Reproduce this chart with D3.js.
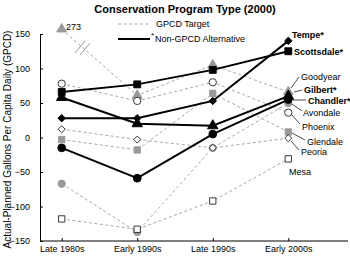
<!DOCTYPE html>
<html>
<head>
<meta charset="utf-8">
<script src="https://cdn.jsdelivr.net/npm/d3@7"></script>
<style>
  body { margin: 0; background: #fff; }
  svg { display: block; font-family: "Liberation Sans", Arial, sans-serif; }
</style>
</head>
<body>
<div id="chart"></div>
<script>
// periods on the x axis
const periods = ["Late 1980s", "Early 1990s", "Late 1990s", "Early 2000s"];
const yTicks = [-150, -100, -50, 0, 50, 100, 150];

// GPCD target cities (dashed grey)
const goodyear = [273, 61, 105, 66];
const avondale = [-67, -137, -15, 50];
const phoenix = [78, 53, 80, 36];
const glendale = [-3, -18, 64, 8];
const peoria = [12, -3, -15, -1];
const mesa = [-118, -133, -92, -31];

// non-GPCD alternative cities (solid black)
const tempe = [28, 28, 53, 140];
const scottsdale = [66, 77, 98, 125];
const gilbert = [58, 20, 17, 60];
const chandler = [-15, -59, 5, 55];

// 273 is drawn above the top of the axis with a break
const goodyearBreakPlot = 157;

const width = 350, height = 256;
const marginLeft = 40, marginTop = 34, marginBottom = 15;

const x = d3.scalePoint().domain(periods).range([61.7, 288.3]);
const y = d3.scaleLinear().domain([-150, 150]).range([height - marginBottom, marginTop]);

const svg = d3.select("#chart").append("svg")
    .attr("width", width)
    .attr("height", height);

// title
svg.append("text")
    .attr("x", 185).attr("y", 13)
    .attr("text-anchor", "middle")
    .attr("font-size", 11).attr("font-weight", "bold")
    .text("Conservation Program Type (2000)");

// y axis
svg.append("g")
    .attr("transform", `translate(${marginLeft},0)`)
    .call(d3.axisLeft(y).tickValues(yTicks).tickSizeInner(-3).tickSizeOuter(0).tickPadding(10))
    .call(g => g.selectAll("text").attr("font-size", 9).attr("font-family", "Liberation Sans, Arial, sans-serif"));

// x axis
svg.append("g")
    .attr("transform", `translate(0,${y(-150)})`)
    .call(d3.axisBottom(x).tickSizeInner(-3).tickSizeOuter(0).tickPadding(5))
    .call(g => g.select(".domain").remove())
    .call(g => g.append("line").attr("x1", marginLeft).attr("x2", 348).attr("stroke", "#000"))
    .call(g => g.selectAll("text").attr("font-size", 9).attr("font-family", "Liberation Sans, Arial, sans-serif"));

// y label
svg.append("text")
    .attr("transform", `translate(11,${(y(150) + y(-150)) / 2 + 2}) rotate(-90)`)
    .attr("text-anchor", "middle")
    .attr("font-size", 10)
    .text("Actual-Planned Gallons Per Capita Daily (GPCD)");

const targets = [
  { name: "Goodyear", v: goodyear, shape: d3.symbolTriangle, fill: "#999", stroke: "#999", size: 42 },
  { name: "Avondale", v: avondale, shape: d3.symbolCircle, fill: "#999", stroke: "#999", size: 42 },
  { name: "Phoenix", v: phoenix, shape: d3.symbolCircle, fill: "#fff", stroke: "#222", size: 42 },
  { name: "Glendale", v: glendale, shape: d3.symbolSquare, fill: "#999", stroke: "#999", size: 40 },
  { name: "Mesa", v: mesa, shape: d3.symbolSquare, fill: "#fff", stroke: "#222", size: 40 },
  { name: "Peoria", v: peoria, shape: d3.symbolDiamond2, fill: "#fff", stroke: "#222", size: 32 }
];
const alternatives = [
  { name: "Gilbert", v: gilbert, shape: d3.symbolTriangle, fill: "#000", stroke: "#000", size: 48 },
  { name: "Chandler", v: chandler, shape: d3.symbolCircle, fill: "#000", stroke: "#000", size: 48 },
  { name: "Tempe", v: tempe, shape: d3.symbolDiamond2, fill: "#000", stroke: "#000", size: 36 },
  { name: "Scottsdale", v: scottsdale, shape: d3.symbolSquare, fill: "#000", stroke: "#000", size: 48 }
];

const plotY = (d, i, name) => (name === "Goodyear" && d > 150) ? y(goodyearBreakPlot) : y(d);

const line = name => d3.line()
    .x((d, i) => x(periods[i]))
    .y((d, i) => plotY(d, i, name));

function drawSeries(list, lineStyle) {
  list.forEach(s => {
    svg.append("path")
        .datum(s.v)
        .attr("fill", "none")
        .attr("stroke", lineStyle.stroke)
        .attr("stroke-width", lineStyle.width)
        .attr("stroke-dasharray", lineStyle.dash)
        .attr("d", line(s.name));
  });
}
function drawMarkers(list) {
  list.forEach(s => {
    svg.append("g").selectAll("path")
      .data(s.v)
      .join("path")
        .attr("transform", (d, i) => `translate(${x(periods[i])},${plotY(d, i, s.name)})`)
        .attr("d", d3.symbol(s.shape, s.size))
        .attr("fill", s.fill)
        .attr("stroke", s.stroke)
        .attr("stroke-width", 0.9);
  });
}

drawSeries(targets, { stroke: "#a8a8a8", width: 1, dash: "3,2.5" });
drawMarkers(targets);
drawSeries(alternatives, { stroke: "#000", width: 2, dash: null });
drawMarkers(alternatives);

// axis break marks on Goodyear's first segment
[[0, 0], [5, 2]].forEach(([dx, dy]) => {
  svg.append("line")
      .attr("x1", 75 + dx).attr("y1", 53 + dy)
      .attr("x2", 85 + dx).attr("y2", 41 + dy)
      .attr("stroke", "#999").attr("stroke-width", 1);
});
svg.append("text")
    .attr("x", 66).attr("y", 30)
    .attr("font-size", 9)
    .text(goodyear[0]);

// legend
svg.append("line").attr("x1", 118).attr("x2", 150).attr("y1", 24).attr("y2", 24)
    .attr("stroke", "#a8a8a8").attr("stroke-dasharray", "3,2.5");
svg.append("text").attr("x", 156).attr("y", 27).attr("font-size", 9).text("GPCD Target");
svg.append("line").attr("x1", 118).attr("x2", 150).attr("y1", 39).attr("y2", 39)
    .attr("stroke", "#000").attr("stroke-width", 2);
svg.append("text").attr("x", 151).attr("y", 38).attr("font-size", 8).text("*");
svg.append("text").attr("x", 155).attr("y", 42).attr("font-size", 9).text("Non-GPCD Alternative");

// right-hand city labels
const labels = [
  { t: "Tempe*", x: 292, y: 38, bold: true },
  { t: "Scottsdale*", x: 294, y: 55, bold: true },
  { t: "Goodyear", x: 301, y: 80, bold: false, p: [291, 88, 299, 77] },
  { t: "Gilbert*", x: 304, y: 93, bold: true, p: [294, 92, 302, 90] },
  { t: "Chandler*", x: 308, y: 104, bold: true, p: [293, 100, 306, 100] },
  { t: "Avondale", x: 303, y: 116, bold: false, p: [292, 104, 302, 111] },
  { t: "Phoenix", x: 302, y: 130, bold: false, p: [292, 115, 300, 124] },
  { t: "Glendale", x: 307, y: 145, bold: false, p: [292, 133, 305, 140] },
  { t: "Peoria", x: 301, y: 155, bold: false, p: [291, 141, 299, 150] },
  { t: "Mesa", x: 289, y: 175, bold: false }
];
labels.forEach(l => {
  if (l.p) {
    svg.append("line")
        .attr("x1", l.p[0]).attr("y1", l.p[1]).attr("x2", l.p[2]).attr("y2", l.p[3])
        .attr("stroke", "#000").attr("stroke-width", 0.7);
  }
  svg.append("text")
      .attr("x", l.x).attr("y", l.y)
      .attr("font-size", 9)
      .attr("font-weight", l.bold ? "bold" : "normal")
      .text(l.t);
});
</script>
</body>
</html>
